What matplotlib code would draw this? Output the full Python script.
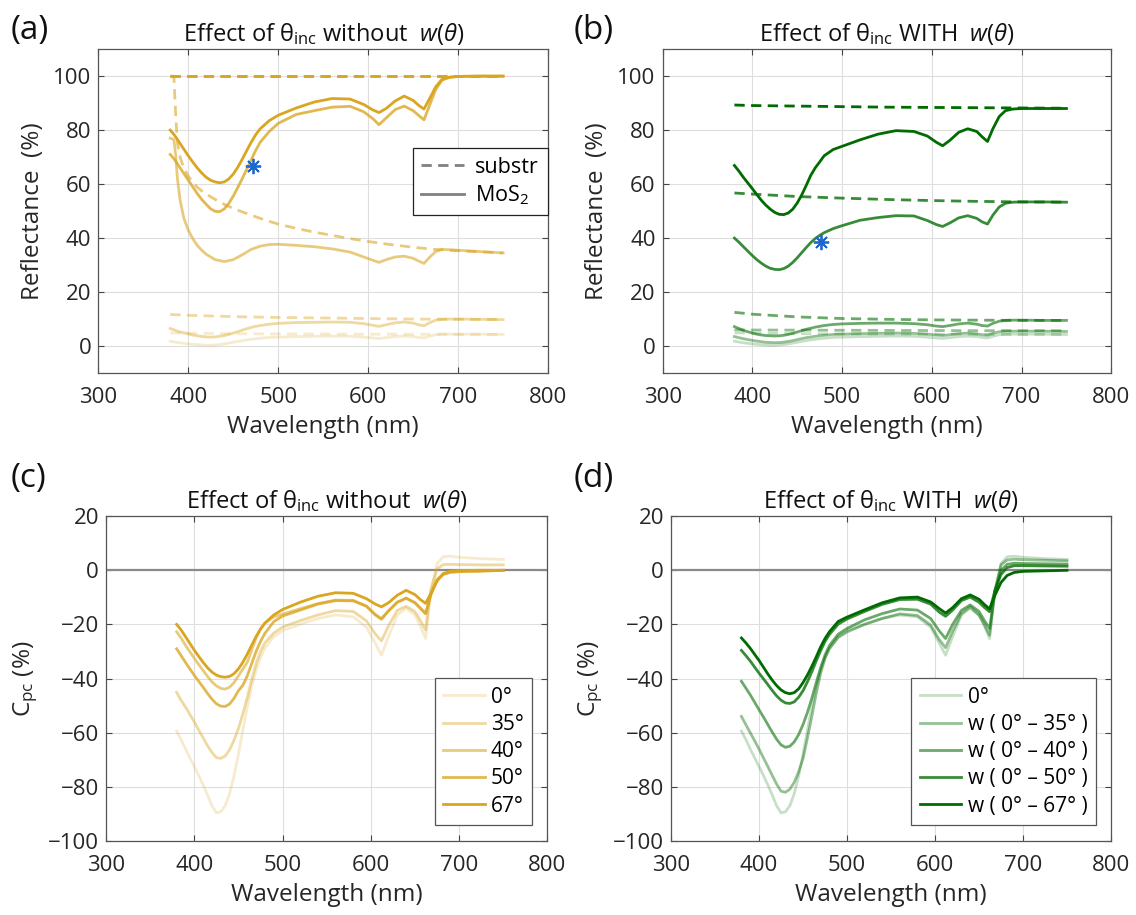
import matplotlib
matplotlib.use("Agg")
import matplotlib.pyplot as plt
from matplotlib.lines import Line2D

plt.rcParams["font.family"] = ["Open Sans", "DejaVu Sans"]
plt.rcParams["mathtext.fontset"] = "custom"
plt.rcParams["mathtext.rm"] = "Open Sans"
plt.rcParams["mathtext.it"] = "Open Sans:italic"

# Shared wavelength grid (nm) for the MoS2 / Cpc curves
wl = [380, 385, 390, 400, 405, 410, 415, 420, 425, 430, 435, 440, 445, 450, 455, 460, 465, 470, 475,
      480, 490, 500, 520, 540, 560, 580, 595, 605, 612, 620, 630, 640, 650, 656, 662, 668, 675, 682,
      690, 700, 725, 750]

# Coarse grid for the (smooth) substrate curves
wl_sub = [380, 400, 450, 500, 550, 600, 650, 700, 750]

# Own grid for the 40 deg curves of panel (a) (sharp drop near 385 nm)
wl_a40 = [380, 384, 386, 388, 391, 395, 400, 405, 410, 415, 420, 430, 440, 450, 460, 470, 480, 490,
          500, 520, 540, 560, 580, 595, 605, 612, 620, 630, 640, 650, 656, 662, 668, 675, 682, 690,
          700, 725, 750]

angles = ["0°", "35°", "40°", "50°", "67°"]
w_labels = ["0°", "w ( 0° – 35° )", "w ( 0° – 40° )", "w ( 0° – 50° )", "w ( 0° – 67° )"]

# ---- (a) reflectance without w(theta)
sub_a_0 = [4.9, 4.8, 4.6, 4.5, 4.5, 4.4, 4.4, 4.3, 4.3]
sub_a_35 = [11.7, 11.4, 10.9, 10.6, 10.4, 10.2, 10.0, 9.9, 9.8]
sub_a_50 = [100, 100, 100, 100, 100, 100, 100, 100, 100]
sub_a_67 = [100, 100, 100, 100, 100, 100, 100, 100, 100]
sub_a_40 = [100, 100, 86, 75, 70, 66, 63, 60.7, 58.8, 57.5, 56.3, 54.3, 52.5, 51, 49.7, 48.5, 47.3,
            46.2, 45.2, 43.6, 42.2, 41, 39.8, 39, 38.5, 38.2, 37.8, 37.4, 37, 36.6, 36.4, 36.2, 36,
            35.8, 35.7, 35.5, 35.3, 34.9, 34.5]

r_a_0 = [1.8, 1.5, 1.2, 0.8, 0.65, 0.5, 0.4, 0.3, 0.3, 0.4, 0.55, 0.8, 1.1, 1.4, 1.7, 2.0, 2.3, 2.5,
         2.7, 2.9, 3.2, 3.3, 3.5, 3.6, 3.7, 3.6, 3.3, 3.0, 2.8, 3.1, 3.5, 3.7, 3.5, 3.2, 3.0, 3.6,
         4.2, 4.4, 4.4, 4.4, 4.4, 4.3]
r_a_35 = [6.5, 5.9, 5.3, 4.5, 4.1, 3.8, 3.55, 3.4, 3.3, 3.4, 3.6, 3.9, 4.3, 4.8, 5.35, 5.9, 6.4, 6.9,
          7.3, 7.6, 8.1, 8.4, 8.7, 8.8, 8.9, 8.8, 8.3, 7.7, 7.3, 7.9, 8.6, 8.9, 8.5, 7.9, 7.5, 8.6,
          9.6, 9.9, 10.0, 10.0, 9.9, 9.8]
r_a_40 = [77, 76.5, 71, 62, 54, 47.5, 43, 39.8, 37.3, 35.5, 34, 32, 31.3, 32, 33.8, 35.8, 37, 37.6,
          37.7, 37.3, 36.8, 36, 34.8, 33, 31.8, 31, 32, 33, 33.3, 32.5, 31.5, 30.6, 32.8, 35, 35.8,
          35.7, 35.5, 35, 34.5]
r_a_50 = [71, 69, 66.5, 61.5, 59, 56.5, 54.3, 52.5, 50.8, 49.9, 49.8, 50.8, 52.8, 55.5, 58.7, 62,
          65.5, 69, 72.5, 75.5, 79.5, 82.5, 85.8, 87.2, 88.5, 88.8, 86.8, 84.3, 82, 84.5, 87.6,
          88.9, 87.2, 85.5, 83.8, 89, 95, 98.5, 99.5, 99.9, 100, 100]
r_a_67 = [80, 78, 75.5, 70.5, 68.2, 66, 64.1, 62.5, 61.4, 60.8, 60.5, 60.8, 61.9, 63.7, 66.2, 69.2,
          72.4, 75.5, 78.3, 80.5, 83.5, 85.5, 88.2, 90.4, 91.7, 91.5, 89.5, 87.5, 86.5, 88, 90.8,
          92.6, 91, 89.2, 87.8, 91.5, 96, 98.8, 99.6, 99.9, 100, 100]

# ---- (b) reflectance with w(theta)
sub_b_35 = [6.0, 5.95, 5.9, 5.85, 5.8, 5.75, 5.7, 5.7, 5.7]
sub_b_40 = [12.5, 11.8, 10.8, 10.2, 9.9, 9.7, 9.6, 9.5, 9.5]
sub_b_50 = [56.7, 56.3, 55.4, 54.8, 54.3, 53.9, 53.6, 53.4, 53.3]
sub_b_67 = [89.3, 89.1, 88.9, 88.7, 88.5, 88.4, 88.3, 88.2, 88.1]

r_b_35 = [3.5, 3.1, 2.7, 2.1, 1.85, 1.6, 1.4, 1.3, 1.25, 1.3, 1.45, 1.7, 2.0, 2.4, 2.75, 3.1, 3.35,
          3.6, 3.8, 4.0, 4.3, 4.4, 4.6, 4.7, 4.8, 4.7, 4.4, 4.1, 3.9, 4.2, 4.6, 4.8, 4.5, 4.2, 4.0,
          4.7, 5.3, 5.5, 5.5, 5.5, 5.5, 5.4]
r_b_40 = [7.2, 6.5, 5.8, 4.8, 4.4, 4.1, 3.9, 3.8, 3.75, 3.8, 4.0, 4.3, 4.7, 5.2, 5.7, 6.2, 6.6, 7.0,
          7.3, 7.6, 8.0, 8.2, 8.4, 8.5, 8.5, 8.3, 7.9, 7.4, 7.2, 7.6, 8.2, 8.5, 8.1, 7.6, 7.4, 8.4,
          9.2, 9.5, 9.6, 9.6, 9.5, 9.5]
r_b_50 = [40, 38.5, 36.8, 33.5, 32, 30.7, 29.6, 28.8, 28.4, 28.3, 28.7, 29.6, 31, 32.7, 34.6, 36.5,
          38.3, 39.8, 41, 42, 43.5, 44.6, 46.6, 47.6, 48.3, 48.2, 46.5, 45, 44.3, 45.6, 47.5, 48.3,
          47.3, 46, 45.2, 48.5, 51.5, 52.9, 53.3, 53.4, 53.4, 53.3]
r_b_67 = [66.9, 64.8, 62.5, 58.3, 56.1, 54, 52.2, 50.7, 49.5, 48.8, 48.7, 49.3, 50.7, 53, 56, 59.5,
          63.2, 66, 68.2, 70.5, 72.8, 74, 76.4, 78.5, 79.8, 79.5, 77.8, 75.5, 74.2, 76.2, 79.2, 80.5,
          79.5, 77.5, 75.8, 80.5, 85, 87.2, 87.8, 88, 88, 88]

# ---- (c) Cpc without w(theta)
c_0 = [-59.4, -62.5, -66, -72.5, -75.8, -79.3, -83, -87, -89.6, -89.2, -87, -82.5, -76, -68, -59,
       -50.5, -43, -37, -32.3, -28.8, -24.5, -22.3, -19.9, -17.8, -16.5, -17.2, -21, -27, -31.4,
       -24.5, -16.5, -14, -16.5, -20.5, -25.2, -8, 2.5, 5, 5.2, 4.8, 4.3, 4.0]
c_35 = [-45.1, -48, -50.5, -56, -59, -61.9, -64.8, -67.3, -69.2, -69.5, -68.6, -66.3, -62.8, -58.5,
        -53, -47, -40.5, -34.5, -30, -26.8, -23.2, -21, -18.6, -16.5, -14.9, -15.2, -18.7, -23.5,
        -26.1, -20.5, -14.8, -13.3, -15.3, -18.5, -22, -7, 0.5, 2.1, 2.2, 2.1, 2.0, 2.0]
c_40 = [-22.7, -25, -27.7, -32.5, -34.8, -37, -39.2, -41.2, -42.7, -43.6, -43.9, -43.2, -41.5, -39,
        -36.5, -34, -29.5, -25, -21.8, -19.5, -17.2, -16.2, -14.2, -12.3, -11, -11.1, -13.2, -16.3,
        -17.8, -15, -11.8, -10.3, -12, -14, -16.1, -9, -3.5, -1.5, -0.7, -0.5, -0.3, 0]
c_50 = [-29, -31.5, -34, -38.8, -41, -43.2, -45.5, -47.6, -49.3, -50.2, -50.3, -49.4, -47.3, -44.5,
        -42.5, -39, -34.5, -30, -26.3, -23.3, -19, -16.9, -14.7, -12.5, -11.2, -11.3, -13.3, -16.5,
        -18.1, -15, -11.8, -10.3, -12, -14, -15.9, -9, -3.5, -1.5, -0.7, -0.5, -0.3, 0]
c_67 = [-20, -22, -24.5, -29.5, -31.8, -34, -36, -37.6, -38.7, -39.3, -39.5, -39.2, -38.2, -36.4,
        -34, -31, -27.7, -24.5, -21.7, -19.5, -16.5, -14.5, -11.8, -9.6, -8.3, -8.5, -10.5, -12.5,
        -13.5, -12, -9.2, -7.4, -9, -10.8, -12.2, -8.5, -4, -1.2, -0.4, -0.1, 0, 0]

# ---- (d) Cpc with w(theta)
d_35 = [-54, -57, -60, -66, -69.3, -72.5, -75.8, -79, -81.6, -82, -80.9, -78.3, -74.5, -69.5, -62,
        -54, -45.5, -38, -32.5, -29, -24.8, -22.8, -20, -17.8, -16.1, -16.7, -20.2, -25.7, -28.6,
        -22.5, -16, -13.5, -16.6, -20, -24, -7.5, 2, 3.8, 4.1, 3.9, 3.7, 3.5]
d_40 = [-41, -43.5, -46, -51.5, -54.2, -57, -59.8, -62.4, -64.5, -65.4, -65, -63.4, -60.7, -57,
        -52.5, -47.3, -41.5, -36, -31.3, -27.8, -23.6, -21.5, -18.3, -16, -14.3, -14.7, -17.8, -22.5,
        -25.2, -20, -14.8, -12.8, -15.2, -18.5, -21.5, -8, 0, 2.2, 2.6, 2.5, 2.4, 2.3]
d_50 = [-29.6, -31.5, -33.5, -38, -40.1, -42.2, -44.4, -46.4, -48, -49, -49.2, -48.6, -46.9, -44.5,
        -41.2, -37.5, -33.5, -29.7, -26.3, -23.7, -19.9, -18, -15.2, -12.6, -10.8, -10.7, -12.5,
        -15.5, -17, -14.7, -11.2, -9.9, -11.8, -13.7, -15.3, -7.5, -1.5, 1, 1.7, 1.7, 1.6, 1.5]
d_67 = [-25, -26.8, -28.8, -33.3, -35.8, -38.3, -40.6, -42.6, -44.2, -45.2, -45.6, -45.2, -43.8,
        -41.5, -38.7, -35.5, -32, -28.3, -25.2, -22.7, -18.9, -17.3, -14.6, -12, -10.2, -9.9, -11.7,
        -14.2, -15.8, -13.8, -10.5, -9.1, -10.7, -12.6, -14.3, -9.3, -4.5, -1.9, -0.8, -0.4, -0.2, 0]

# asterisk markers (wavelength, reflectance)
star_a = (472, 66.6)
star_b = (477, 38.4)

gold = (0.855, 0.647, 0.125)
green = (0.0, 0.42, 0.0)
alphas = [0.22, 0.42, 0.58, 0.78, 1.0]
dash = (3.7, 2.3)
lw = 2.0
txt = "#262626"


def style(ax, ylim, yticks, ylabel, title):
    ax.set_xlim(300, 800)
    ax.set_ylim(*ylim)
    ax.set_xticks(range(300, 801, 100))
    ax.set_yticks(yticks)
    ax.grid(True, color="#dedede", linewidth=0.8)
    ax.set_axisbelow(True)
    ax.tick_params(direction="in", top=True, right=True, length=4, width=0.8,
                   color="#444444", labelcolor=txt, labelsize=16)
    ax.tick_params(axis="x", pad=10)
    ax.tick_params(axis="y", pad=5)
    for s in ax.spines.values():
        s.set_color("#555555")
        s.set_linewidth(0.9)
    ax.set_xlabel("Wavelength (nm)", fontsize=17.5, color=txt, labelpad=5)
    ax.set_ylabel(ylabel, fontsize=17.5, color=txt, labelpad=6)
    ax.set_title(title, fontsize=17, color="#111111")


fig = plt.figure(figsize=(11.36, 9.15), dpi=100)

t_without = "Effect of θ$_{\\mathrm{inc}}$ without  $\\mathit{w(θ)}$"
t_with = "Effect of θ$_{\\mathrm{inc}}$ WITH  $\\mathit{w(θ)}$"

# (a)
ax = fig.add_axes([0.0865, 0.5923, 0.396, 0.354])
style(ax, (-10, 110), range(0, 101, 20), "Reflectance  (%)", t_without)
subs = [sub_a_0, sub_a_35, None, sub_a_50, sub_a_67]
sols = [r_a_0, r_a_35, None, r_a_50, r_a_67]
for i in range(5):
    c = gold + (alphas[i],)
    if i == 2:
        ax.plot(wl_a40, sub_a_40, color=c, lw=lw, dashes=dash)
        ax.plot(wl_a40, r_a_40, color=c, lw=lw)
    else:
        ax.plot(wl_sub, subs[i], color=c, lw=lw, dashes=dash)
        ax.plot(wl, sols[i], color=c, lw=lw)
ax.plot(*star_a, marker=(8, 2, 0), ms=11, mew=1.3, color="#1f66cc")
hl = [Line2D([], [], color="#808080", lw=lw, dashes=dash), Line2D([], [], color="#808080", lw=lw)]
leg = ax.legend(hl, ["substr", "MoS$_2$"], loc="upper left", bbox_to_anchor=(0.699, 0.694),
                borderaxespad=0, fontsize=15.5, handlelength=2.0, handletextpad=0.5,
                labelspacing=0.25, fancybox=False, edgecolor="#222222", framealpha=1)
leg.get_frame().set_linewidth(0.9)

# (b)
ax = fig.add_axes([0.5833, 0.5923, 0.395, 0.354])
style(ax, (-10, 110), range(0, 101, 20), "Reflectance  (%)", t_with)
subs = [sub_a_0, sub_b_35, sub_b_40, sub_b_50, sub_b_67]
sols = [r_a_0, r_b_35, r_b_40, r_b_50, r_b_67]
for i in range(5):
    c = green + (alphas[i],)
    ax.plot(wl_sub, subs[i], color=c, lw=lw, dashes=dash)
    ax.plot(wl, sols[i], color=c, lw=lw)
ax.plot(*star_b, marker=(8, 2, 0), ms=11, mew=1.3, color="#1f66cc")

# (c)
ax = fig.add_axes([0.0933, 0.0809, 0.3886, 0.355])
style(ax, (-100, 20), range(-100, 21, 20), "C$_{\\mathrm{pc}}$ (%)", t_without)
ax.axhline(0, color="#8a8a8a", lw=1.6, zorder=1.5)
for i, y in enumerate([c_0, c_35, c_40, c_50, c_67]):
    ax.plot(wl, y, color=gold + (alphas[i],), lw=lw, label=angles[i])
leg = ax.legend(loc="lower right", bbox_to_anchor=(0.965, 0.049), borderaxespad=0, fontsize=15,
                handlelength=2.0, handletextpad=0.3, labelspacing=0.3, fancybox=False,
                edgecolor="#555555", framealpha=1)
leg.get_frame().set_linewidth(0.9)

# (d)
ax = fig.add_axes([0.5907, 0.0809, 0.3873, 0.355])
style(ax, (-100, 20), range(-100, 21, 20), "C$_{\\mathrm{pc}}$ (%)", t_with)
ax.axhline(0, color="#8a8a8a", lw=1.6, zorder=1.5)
for i, y in enumerate([c_0, d_35, d_40, d_50, d_67]):
    ax.plot(wl, y, color=green + (alphas[i],), lw=lw, label=w_labels[i])
leg = ax.legend(loc="lower right", bbox_to_anchor=(0.965, 0.049), borderaxespad=0, fontsize=15,
                handlelength=2.0, handletextpad=0.3, labelspacing=0.3, fancybox=False,
                edgecolor="#555555", framealpha=1)
leg.get_frame().set_linewidth(0.9)

# panel letters
for x, y, s in [(0.009, 0.985, "(a)"), (0.505, 0.985, "(b)"), (0.009, 0.495, "(c)"), (0.505, 0.495, "(d)")]:
    fig.text(x, y, s, fontsize=24, color="#111111", va="top", ha="left")

fig.savefig("out.png", dpi=100)
